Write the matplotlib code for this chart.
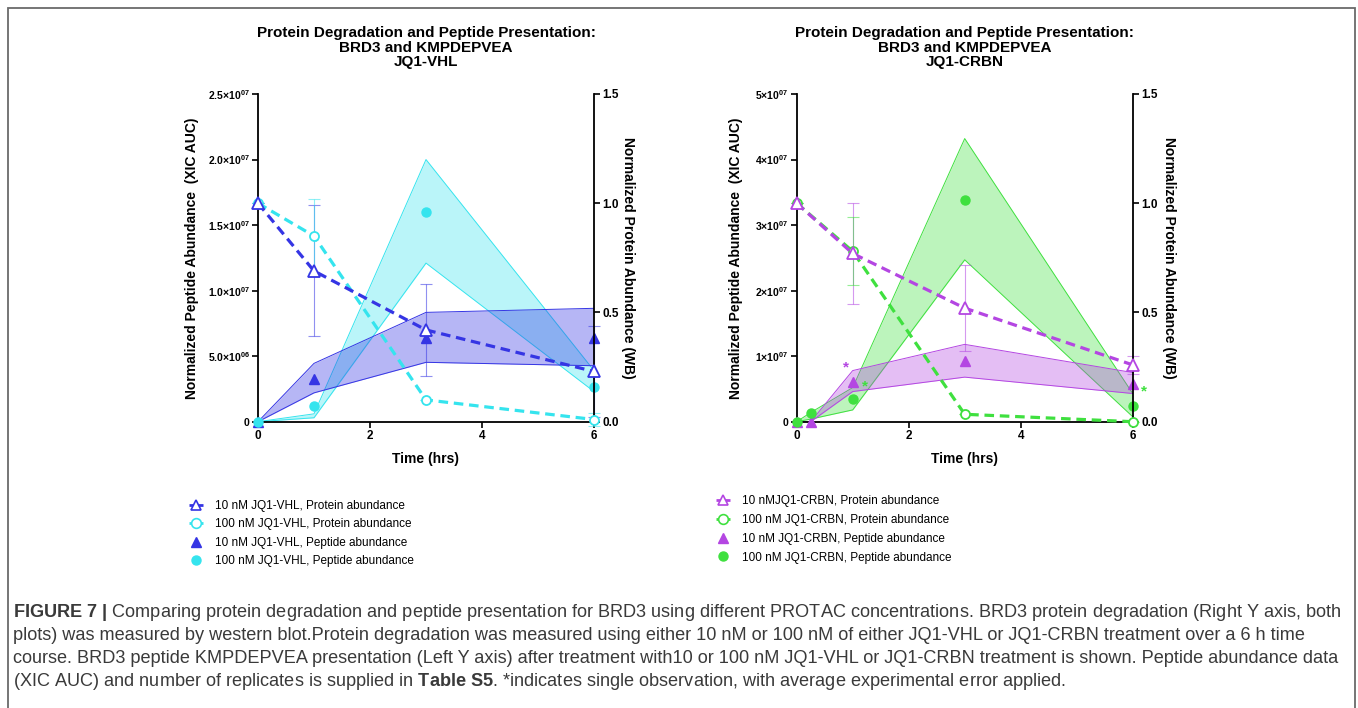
import matplotlib
matplotlib.use("Agg")
import matplotlib.pyplot as plt
from matplotlib.lines import Line2D
from matplotlib.patches import Rectangle

plt.rcParams["font.family"] = ["Liberation Sans", "DejaVu Sans"]
plt.rcParams["mathtext.fontset"] = "custom"
plt.rcParams["mathtext.rm"] = "Liberation Sans"
plt.rcParams["mathtext.bf"] = "Liberation Sans:bold"
plt.rcParams["mathtext.it"] = "Liberation Sans:italic"

# ---- JQ1-VHL panel ----
vhl_prot_t = [0, 1, 3, 6]
vhl10_prot = [1.0, 0.69, 0.42, 0.23]
vhl10_prot_err = [0.0, 0.30, 0.21, 0.21]
vhl100_prot = [1.0, 0.85, 0.10, 0.01]
vhl100_prot_err = [0.0, 0.17, 0.0, 0.03]
vhl_pep_t = [0, 1, 3, 6]
vhl10_pep = [0, 3.26e6, 6.4e6, 6.4e6]
vhl10_pep_lo = [0, 2.2e6, 4.53e6, 4.27e6]
vhl10_pep_hi = [0, 4.45e6, 8.34e6, 8.65e6]
vhl100_pep = [0, 1.22e6, 1.6e7, 2.62e6]
vhl100_pep_lo = [0, 0.3e6, 1.21e7, 2.3e6]
vhl100_pep_hi = [0, 0.6e6, 2.0e7, 3.9e6]
vhl_yticks = [0, 5e6, 1e7, 1.5e7, 2e7, 2.5e7]
vhl_ylabels = ["0", r"5.0×10$^{\mathbf{06}}$", r"1.0×10$^{\mathbf{07}}$",
               r"1.5×10$^{\mathbf{07}}$", r"2.0×10$^{\mathbf{07}}$", r"2.5×10$^{\mathbf{07}}$"]

# ---- JQ1-CRBN panel ----
crbn_prot_t = [0, 1, 3, 6]
crbn10_prot = [1.0, 0.77, 0.52, 0.26]
crbn10_prot_err = [0.0, 0.23, 0.195, 0.04]
crbn100_prot = [1.0, 0.78, 0.034, 0.0]
crbn100_prot_err = [0.0, 0.155, 0.0, 0.0]
crbn_pep_t = [0, 0.25, 1, 3, 6]
crbn10_pep = [0, 0, 6.1e6, 9.26e6, 5.75e6]
crbn10_pep_lo = [0, 0, 4.6e6, 6.8e6, 4.3e6]
crbn10_pep_hi = [0, 0, 7.8e6, 1.18e7, 7.5e6]
crbn100_pep = [0, 1.37e6, 3.46e6, 3.39e7, 2.44e6]
crbn100_pep_lo = [0, 0.4e6, 1.8e6, 2.47e7, 0.76e6]
crbn100_pep_hi = [0, 1.4e6, 5.2e6, 4.32e7, 4.3e6]
crbn_yticks = [0, 1e7, 2e7, 3e7, 4e7, 5e7]
crbn_ylabels = ["0", r"1×10$^{\mathbf{07}}$", r"2×10$^{\mathbf{07}}$",
                r"3×10$^{\mathbf{07}}$", r"4×10$^{\mathbf{07}}$", r"5×10$^{\mathbf{07}}$"]
# single-observation markers (time, peptide value, which series)
star_t = [0.88, 1.22, 6.2]
star_y = [8.3e6, 5.4e6, 4.6e6]
star_series = ["10", "100", "100"]

prot_ticks = [0.0, 0.5, 1.0, 1.5]
time_ticks = [0, 2, 4, 6]

vhl_labels = ["10 nM JQ1-VHL, Protein abundance", "100 nM JQ1-VHL, Protein abundance",
              "10 nM JQ1-VHL, Peptide abundance", "100 nM JQ1-VHL, Peptide abundance"]
crbn_labels = ["10 nMJQ1-CRBN, Protein abundance", "100 nM JQ1-CRBN, Protein abundance",
               "10 nM JQ1-CRBN, Peptide abundance", "100 nM JQ1-CRBN, Peptide abundance"]

BLUE = "#3535e4"
CYAN = "#35e4ee"
PURPLE = "#b446e2"
GREEN = "#3fe03f"

W, H = 1358, 708
fig = plt.figure(figsize=(W / 100, H / 100), dpi=100)


def draw_panel(left_px, ymax, yticks, ylabels, prot_t, p10, e10, p100, e100,
               pep_t, pep10, lo10, hi10, pep100, lo100, hi100, c10, c100, a10, a100, title):
    ax = fig.add_axes([left_px / W, 1 - 421.7 / H, 336 / W, 327.7 / H])
    ax2 = ax.twinx()

    # shaded peptide error bands
    ax.fill_between(pep_t, lo100, hi100, color=c100, alpha=a100, lw=0, zorder=1)
    ax.plot(pep_t, lo100, color=c100, lw=0.7, zorder=1.5)
    ax.plot(pep_t, hi100, color=c100, lw=0.7, zorder=1.5)
    ax.fill_between(pep_t, lo10, hi10, color=c10, alpha=a10, lw=0, zorder=2)
    ax.plot(pep_t, lo10, color=c10, lw=0.7, zorder=2.5)
    ax.plot(pep_t, hi10, color=c10, lw=0.7, zorder=2.5)
    ax.plot(pep_t, pep10, ls="none", marker="^", ms=6.5, color=c10, zorder=4, clip_on=False)
    ax.plot(pep_t, pep100, ls="none", marker="o", ms=6.5, color=c100, zorder=4, clip_on=False)

    # protein (western blot) on the right axis
    ax2.errorbar(prot_t, p10, yerr=e10, fmt="none", ecolor=c10, elinewidth=0.8,
                 capsize=4, capthick=0.8, alpha=0.55, clip_on=False)
    ax2.errorbar(prot_t, p100, yerr=e100, fmt="none", ecolor=c100, elinewidth=0.8,
                 capsize=4, capthick=0.8, alpha=0.55, clip_on=False)
    ax2.plot(prot_t, p100, ls="--", dashes=(3, 1.8), lw=2.3, color=c100, marker="o", ms=6.5,
             mfc="white", mec=c100, mew=1.3, clip_on=False, zorder=3)
    ax2.plot(prot_t, p10, ls="--", dashes=(3, 1.8), lw=2.3, color=c10, marker="^", ms=8,
             mfc="white", mec=c10, mew=1.3, clip_on=False, zorder=4)

    ax.set_xlim(0, 6)
    ax.set_ylim(0, ymax)
    ax2.set_ylim(0, 1.5)
    ax.set_xticks(time_ticks)
    ax.set_xticklabels([str(t) for t in time_ticks], fontweight="bold", fontsize=8.5)
    ax.set_yticks(yticks)
    ax.set_yticklabels(ylabels, fontweight="bold", fontsize=7.5)
    ax2.set_yticks(prot_ticks)
    ax2.set_yticklabels([f"{v:.1f}" for v in prot_ticks], fontweight="bold", fontsize=8.5)

    for a in (ax, ax2):
        a.spines["top"].set_visible(False)
        for s in a.spines.values():
            s.set_linewidth(1.3)
    ax.spines["right"].set_visible(False)
    ax2.spines["left"].set_visible(False)
    ax2.spines["bottom"].set_visible(False)
    ax.tick_params(direction="out", length=4, width=1.2, pad=2)
    ax2.tick_params(direction="out", length=4, width=1.2, pad=2)

    ax.set_xlabel("Time (hrs)", fontweight="bold", fontsize=10)
    ax.xaxis.set_label_coords(0.5, -0.092)
    ax.set_ylabel("Normalized Peptide Abundance  (XIC AUC)", fontweight="bold", fontsize=10)
    ax2.set_ylabel("Normalized Protein Abundance (WB)", fontweight="bold", fontsize=10,
                   rotation=270, va="center")
    fig.text((left_px + 168) / W, 1 - 47.5 / H, title, ha="center", va="center",
             fontweight="bold", fontsize=11, linespacing=1.04)
    return ax, ax2


ax_l, ax_l2 = draw_panel(258, 2.5e7, vhl_yticks, vhl_ylabels, vhl_prot_t, vhl10_prot, vhl10_prot_err,
                         vhl100_prot, vhl100_prot_err, vhl_pep_t, vhl10_pep, vhl10_pep_lo, vhl10_pep_hi,
                         vhl100_pep, vhl100_pep_lo, vhl100_pep_hi, BLUE, CYAN, 0.36, 0.34,
                         "Protein Degradation and Peptide Presentation:\nBRD3 and KMPDEPVEA\nJQ1-VHL")
ax_l.yaxis.set_label_coords(-0.176, 0.5)
ax_l2.yaxis.set_label_coords(1.101, 0.5)

ax_r, ax_r2 = draw_panel(796.7, 5e7, crbn_yticks, crbn_ylabels, crbn_prot_t, crbn10_prot, crbn10_prot_err,
                         crbn100_prot, crbn100_prot_err, crbn_pep_t, crbn10_pep, crbn10_pep_lo, crbn10_pep_hi,
                         crbn100_pep, crbn100_pep_lo, crbn100_pep_hi, PURPLE, GREEN, 0.35, 0.35,
                         "Protein Degradation and Peptide Presentation:\nBRD3 and KMPDEPVEA\nJQ1-CRBN")
ax_r.yaxis.set_label_coords(-0.161, 0.5)
ax_r2.yaxis.set_label_coords(1.107, 0.5)

for t, y, s in zip(star_t, star_y, star_series):
    ax_r.text(t, y, "*", color=PURPLE if s == "10" else GREEN, fontsize=11,
              ha="center", va="center", fontweight="bold", clip_on=False, zorder=5)


def legend_handles(c10, c100):
    return [
        Line2D([], [], color=c10, ls="--", dashes=(2, 1.2), lw=2, marker="^", ms=7, mfc="white", mew=1.2),
        Line2D([], [], color=c100, ls="--", dashes=(2, 1.2), lw=2, marker="o", ms=7, mfc="white", mew=1.2),
        Line2D([], [], color=c10, ls="none", marker="^", ms=6.5),
        Line2D([], [], color=c100, ls="none", marker="o", ms=6.5),
    ]


leg_kw = dict(loc="upper left", frameon=False, fontsize=8.5, handlelength=1.2,
              handletextpad=1.0, borderpad=0, borderaxespad=0)
fig.legend(legend_handles(BLUE, CYAN), vhl_labels, bbox_to_anchor=(189 / W, 1 - 500 / H),
           labelspacing=0.55, **leg_kw)
fig.legend(legend_handles(PURPLE, GREEN), crbn_labels, bbox_to_anchor=(716 / W, 1 - 495 / H),
           labelspacing=0.58, **leg_kw)

caption = [
    r"$\mathbf{FIGURE\ 7\ |}$ Comparing protein degradation and peptide presentation for BRD3 using different PROTAC concentrations. BRD3 protein degradation (Right Y axis, both",
    "plots) was measured by western blot.Protein degradation was measured using either 10 nM or 100 nM of either JQ1-VHL or JQ1-CRBN treatment over a 6 h time",
    "course. BRD3 peptide KMPDEPVEA presentation (Left Y axis) after treatment with10 or 100 nM JQ1-VHL or JQ1-CRBN treatment is shown. Peptide abundance data",
    r"(XIC AUC) and number of replicates is supplied in $\mathbf{Table\ S5}$. *indicates single observation, with average experimental error applied.",
]
for i, line in enumerate(caption):
    fig.text(13 / W, 1 - (617 + 23 * i) / H, line, ha="left", va="baseline",
             fontsize=13.1, color="#3a3a3a")

fig.patches.append(Rectangle((7.5 / W, -0.01), (1355 - 7.5) / W, 1.01 - 8 / H,
                             transform=fig.transFigure, fill=False, ec="#6a6a6a", lw=1.3))

fig.savefig("out.png", dpi=100)
